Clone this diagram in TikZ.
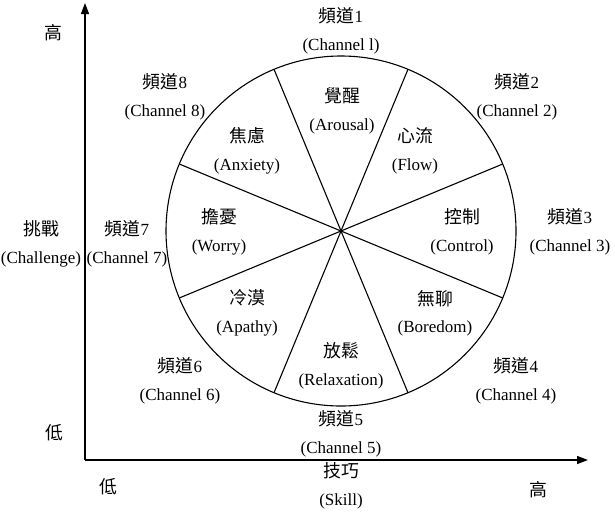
\documentclass[tikz,border=0pt]{standalone}
\usepackage{fontspec}
\setmainfont{Liberation Serif}
\newfontfamily\cjk[Scale=1.05]{Noto Sans CJK TC}
\usetikzlibrary{arrows.meta}
\begin{document}
\begin{tikzpicture}[x=1pt,y=-1pt,
  lbl/.style={align=center,font=\fontsize{17}{27.5}\selectfont,inner sep=0pt},
  axis/.style={line width=1.3pt,-{Triangle[length=11pt,width=8pt]}},
  wheel/.style={line width=1.1pt}]
\useasboundingbox (0,0) rectangle (615,517);
% axes
\coordinate (org) at (85,460);
\coordinate (ytop) at (85,3);
\coordinate (xend) at (588,460);
\draw[axis] (org) -- (ytop);
\draw[axis] (org) -- (xend);
% wheel
\coordinate (O) at (341,231);
\draw[wheel] (O) circle[radius=175];
\foreach \a [count=\i] in {22.5,67.5,...,337.5}{
  \coordinate (s\i) at ([shift={(\a:175)}]O);
  \draw[wheel] (O) -- (s\i);
}
\fill (O) circle[radius=1.6];
% axis labels
\node[lbl] (yhigh) at (53,33) {\cjk 高};
\node[lbl] (ylow) at (54,433) {\cjk 低};
\node[lbl] (chal) at (41,244) {{\cjk 挑戰}\\(Challenge)};
\node[lbl] (skill) at (341,486) {{\cjk 技巧}\\(Skill)};
\node[lbl] (xlow) at (108,487) {\cjk 低};
\node[lbl] (xhigh) at (538,490) {\cjk 高};
% channels
\node[lbl] (c1) at (341,31) {{\cjk 頻道}1\\(Channel l)};
\node[lbl] (c2) at (517,97) {{\cjk 頻道}2\\(Channel 2)};
\node[lbl] (c3) at (570,232) {{\cjk 頻道}3\\(Channel 3)};
\node[lbl] (c4) at (516,381) {{\cjk 頻道}4\\(Channel 4)};
\node[lbl] (c5) at (341,434) {{\cjk 頻道}5\\(Channel 5)};
\node[lbl] (c6) at (180,381) {{\cjk 頻道}6\\(Channel 6)};
\node[lbl] (c7) at (127,244) {{\cjk 頻道}7\\(Channel 7)};
\node[lbl] (c8) at (165,97) {{\cjk 頻道}8\\(Channel 8)};
% states
\node[lbl] (arousal) at (342,111) {{\cjk 覺醒}\\(Arousal)};
\node[lbl] (flow) at (415,151) {{\cjk 心流}\\(Flow)};
\node[lbl] (control) at (462,232) {{\cjk 控制}\\(Control)};
\node[lbl] (boredom) at (435,313) {{\cjk 無聊}\\(Boredom)};
\node[lbl] (relax) at (341,366) {{\cjk 放鬆}\\(Relaxation)};
\node[lbl] (apathy) at (247,313) {{\cjk 冷漠}\\(Apathy)};
\node[lbl] (worry) at (219,232) {{\cjk 擔憂}\\(Worry)};
\node[lbl] (anxiety) at (247,151) {{\cjk 焦慮}\\(Anxiety)};
\end{tikzpicture}
\end{document}
